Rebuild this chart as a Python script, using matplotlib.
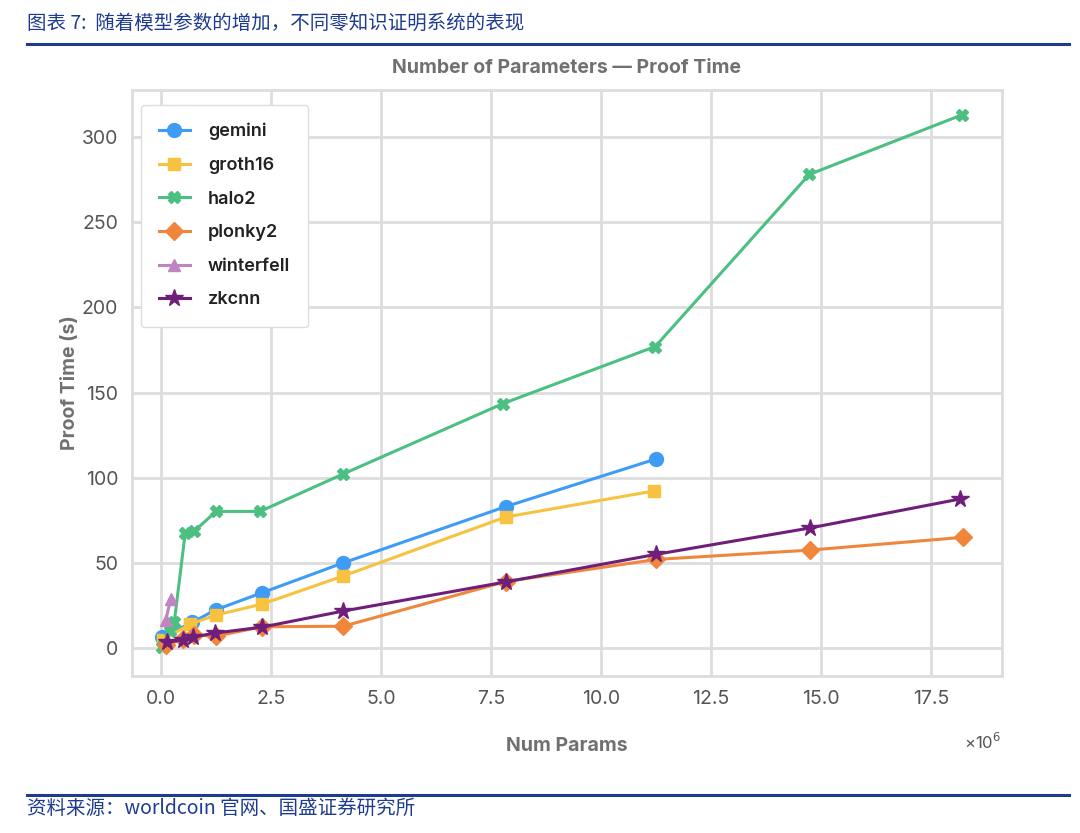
import matplotlib.pyplot as plt
from matplotlib.lines import Line2D

plt.rcParams['font.family'] = ['Inter', 'DejaVu Sans']

# Data (x in millions of parameters, y in seconds)
gemini_x = [0.03, 0.7, 1.25, 2.3, 4.14, 7.83, 11.25]
gemini_y = [6.5, 15, 22.5, 32.5, 50, 83, 111]

groth16_x = [0.05, 0.66, 1.25, 2.3, 4.14, 7.83, 11.2]
groth16_y = [5, 14, 19.4, 25.8, 42.3, 76.9, 92.2]

halo2_x = [0.03, 0.2, 0.3, 0.55, 0.75, 1.25, 2.25, 4.14, 7.77, 11.23, 14.73, 18.2]
halo2_y = [0.5, 10, 15, 67.5, 68.5, 80.2, 80.2, 102.2, 143.5, 177, 278, 313]

plonky2_x = [0.12, 0.5, 0.75, 1.25, 2.3, 4.14, 7.83, 11.25, 14.75, 18.23]
plonky2_y = [1.5, 5.5, 7.5, 7, 12.5, 12.8, 39, 52, 57.5, 65]

winterfell_x = [0.11, 0.22]
winterfell_y = [16.5, 29]

zkcnn_x = [0.14, 0.5, 0.73, 1.23, 2.3, 4.14, 7.83, 11.25, 14.75, 18.16]
zkcnn_y = [3.5, 4.7, 6.5, 8.8, 12.3, 21.7, 38.8, 55, 70.5, 87.5]

x_ticks = [0, 2.5, 5, 7.5, 10, 12.5, 15, 17.5]
y_ticks = [0, 50, 100, 150, 200, 250, 300]

series = [
    ('gemini', gemini_x, gemini_y, '#3f9cf6', 'o', 10),
    ('groth16', groth16_x, groth16_y, '#f7c23f', 's', 9),
    ('halo2', halo2_x, halo2_y, '#4cbf83', 'X', 9),
    ('plonky2', plonky2_x, plonky2_y, '#f0863c', 'D', 9),
    ('winterfell', winterfell_x, winterfell_y, '#c084c0', '^', 9),
    ('zkcnn', zkcnn_x, zkcnn_y, '#6f1f7a', '*', 13),
]

fig = plt.figure(figsize=(10.8, 8.33), dpi=100)
ax = fig.add_axes([0.1222, 0.1885, 0.8056, 0.7035])

for name, xs, ys, color, marker, ms in series:
    ax.plot(xs, ys, color=color, marker=marker, markersize=ms, linewidth=2.2, label=name)

ax.set_xlim(-0.66, 19.11)
ax.set_ylim(-16.4, 327.6)
ax.set_xticks(x_ticks)
ax.set_xticklabels([f'{v:.1f}' for v in x_ticks])
ax.set_yticks(y_ticks)
ax.grid(True, color='#dddddd', linewidth=2)
ax.set_axisbelow(True)
for sp in ax.spines.values():
    sp.set_color('#dddddd')
    sp.set_linewidth(2)
ax.tick_params(length=0, labelsize=14, colors='#555555', pad=10)

ax.set_title('Number of Parameters — Proof Time', fontsize=14, color='#707070',
             fontweight='bold', pad=12)
ax.set_xlabel('Num Params', fontsize=14, color='#707070', fontweight='bold', labelpad=21)
ax.set_ylabel('Proof Time (s)', fontsize=14, color='#707070', fontweight='bold', labelpad=2)
fig.text(0.893, 0.101, '×10$^6$', fontsize=12, color='#555555')

leg = ax.legend(loc='upper left', bbox_to_anchor=(0.0, 0.99), fontsize=13,
                labelspacing=0.92, borderpad=1.0, handlelength=1.7, handletextpad=1.0,
                frameon=True, fancybox=True, edgecolor='#dddddd', framealpha=1)
for t in leg.get_texts():
    t.set_fontweight('semibold')
    t.set_color('#222222')

# header and footer
blue = '#1f3b8f'
cjk = ['Noto Sans CJK SC', 'DejaVu Sans']
fig.text(0.025, 0.972, '图表 7:  随着模型参数的增加，不同零知识证明系统的表现',
         fontsize=14, color=blue, family=cjk, style='italic', va='center')
fig.add_artist(Line2D([0.025, 0.99], [0.947, 0.947], color=blue, linewidth=2.2))
fig.add_artist(Line2D([0.025, 0.99], [0.046, 0.046], color=blue, linewidth=2.2))
fig.text(0.025, 0.03, '资料来源：worldcoin 官网、国盛证券研究所',
         fontsize=14, color=blue, family=cjk, style='italic', va='center')

fig.savefig('out.png', dpi=100)
